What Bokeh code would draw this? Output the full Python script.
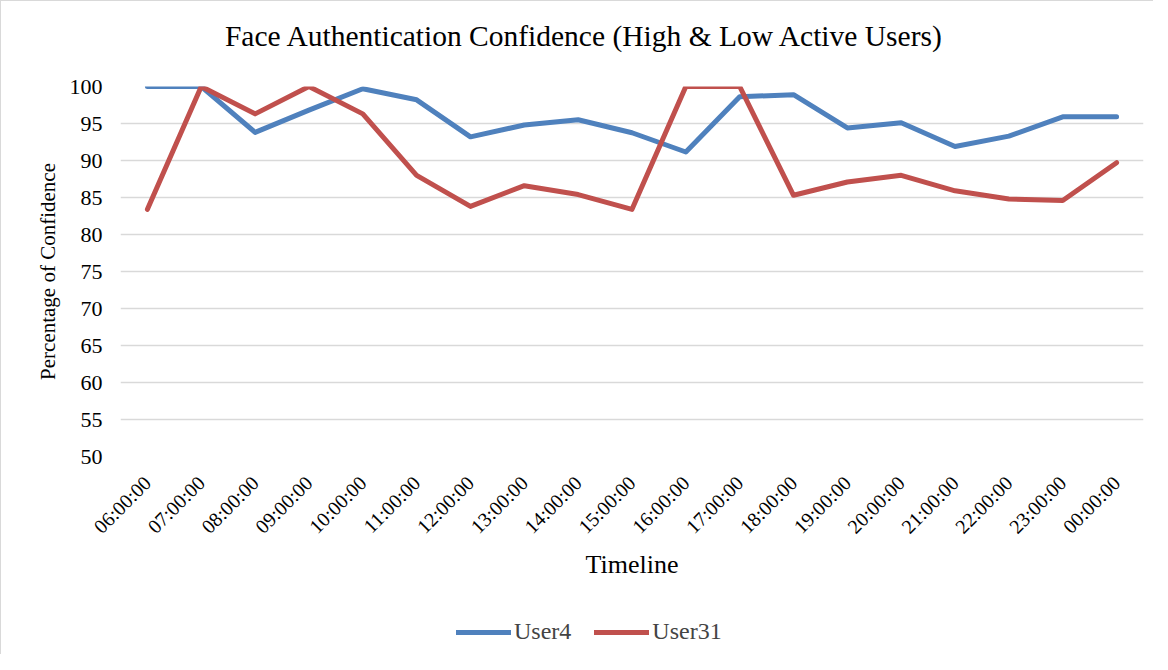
from bokeh.plotting import figure
from bokeh.layouts import column
from bokeh.models import FactorRange, Range1d, FixedTicker, Legend, LegendItem, Label
from bokeh.embed import file_html
from bokeh.resources import INLINE
import math

times = ["06:00:00", "07:00:00", "08:00:00", "09:00:00", "10:00:00", "11:00:00",
         "12:00:00", "13:00:00", "14:00:00", "15:00:00", "16:00:00", "17:00:00",
         "18:00:00", "19:00:00", "20:00:00", "21:00:00", "22:00:00", "23:00:00", "00:00:00"]
user4 = [100, 100, 93.8, 96.8, 99.7, 98.2, 93.2, 94.8, 95.5, 93.75, 91.15, 98.6,
         98.9, 94.4, 95.1, 91.9, 93.3, 95.9, 95.9]
user31 = [83.4, 100, 96.3, 100, 96.3, 88.0, 83.8, 86.6, 85.4, 83.4, 100, 100,
          85.3, 87.1, 88.0, 85.9, 84.8, 84.6, 89.7]
y_ticks = list(range(50, 101, 5))
series_names = ["User4", "User31"]
series_colors = ["#4F81BD", "#C0504D"]
title_text = "Face Authentication Confidence (High & Low Active Users)"

FONT = "Liberation Serif"
W = 1152
FL, FR = 119, 10  # frame borders (left/right), shared by all rows


def strip(height):
    # frames of a column are aligned, so data x == pixel x of the figure
    f = figure(width=W, height=height, x_range=Range1d(FL, W - FR),
               y_range=Range1d(0, height),
               min_border_left=FL, min_border_right=FR,
               min_border_top=0, min_border_bottom=0,
               output_backend="svg", toolbar_location=None,
               x_axis_location=None, y_axis_location=None)
    f.outline_line_color = None
    f.xgrid.grid_line_color = None
    f.ygrid.grid_line_color = None
    return f


# title strip
tt = strip(70)
tt.add_layout(Label(x=583.5, y=36, text=title_text, text_align="center",
                    text_baseline="middle", text_font=FONT, text_font_size="29.5px",
                    text_color="#000000"))

# main chart
p = figure(x_range=FactorRange(factors=times, range_padding=0),
           y_range=Range1d(50, 100),
           width=W, height=535,
           min_border_left=FL, min_border_right=FR,
           min_border_top=15, min_border_bottom=150,
           output_backend="svg", toolbar_location=None)

p.outline_line_color = None
p.xgrid.grid_line_color = None
p.ygrid.grid_line_color = "#D9D9D9"
p.ygrid.grid_line_width = 1.5
p.yaxis.ticker = FixedTicker(ticks=y_ticks)

for ax in (p.xaxis[0], p.yaxis[0]):
    ax.axis_line_color = None
    ax.major_tick_line_color = None
    ax.minor_tick_line_color = None
    ax.major_label_text_font = FONT
    ax.axis_label_text_font = FONT
    ax.axis_label_text_font_style = "normal"
    ax.major_label_text_color = "#000000"
    ax.axis_label_text_color = "#000000"

p.yaxis.major_label_text_font_size = "22px"
p.yaxis.major_label_standoff = 12
p.yaxis.axis_label = "Percentage of Confidence"
p.yaxis.axis_label_text_font_size = "21px"
p.yaxis.axis_label_standoff = 7

p.xaxis.major_label_orientation = math.pi / 4
p.xaxis.major_label_text_font_size = "20px"
p.xaxis.major_label_standoff = 17
p.xaxis.axis_label = "Timeline"
p.xaxis.axis_label_text_font_size = "26px"
p.xaxis.axis_label_standoff = 2

p.line(times, user4, line_color=series_colors[0], line_width=5,
       line_cap="round", line_join="round")
p.line(times, user31, line_color=series_colors[1], line_width=5,
       line_cap="round", line_join="round")

# legend strip
lg = strip(48)
items = []
for name, col in zip(series_names, series_colors):
    r = lg.line([float("nan")], [float("nan")], line_color=col, line_width=5,
                line_cap="round")
    items.append(LegendItem(label=name, renderers=[r]))
legend = Legend(items=items, orientation="horizontal", location=(336, 9),
                label_text_font=FONT, label_text_font_size="24px",
                glyph_width=55, glyph_height=20, label_standoff=3,
                spacing=23, padding=5, margin=0,
                border_line_color=None, background_fill_alpha=0)
lg.add_layout(legend, "center")

layout = column(tt, p, lg, spacing=0,
                styles={"border-top": "1px solid #D9D9D9",
                        "border-left": "1px solid #D9D9D9"})

open("out.html", "w").write(file_html(layout, INLINE))
